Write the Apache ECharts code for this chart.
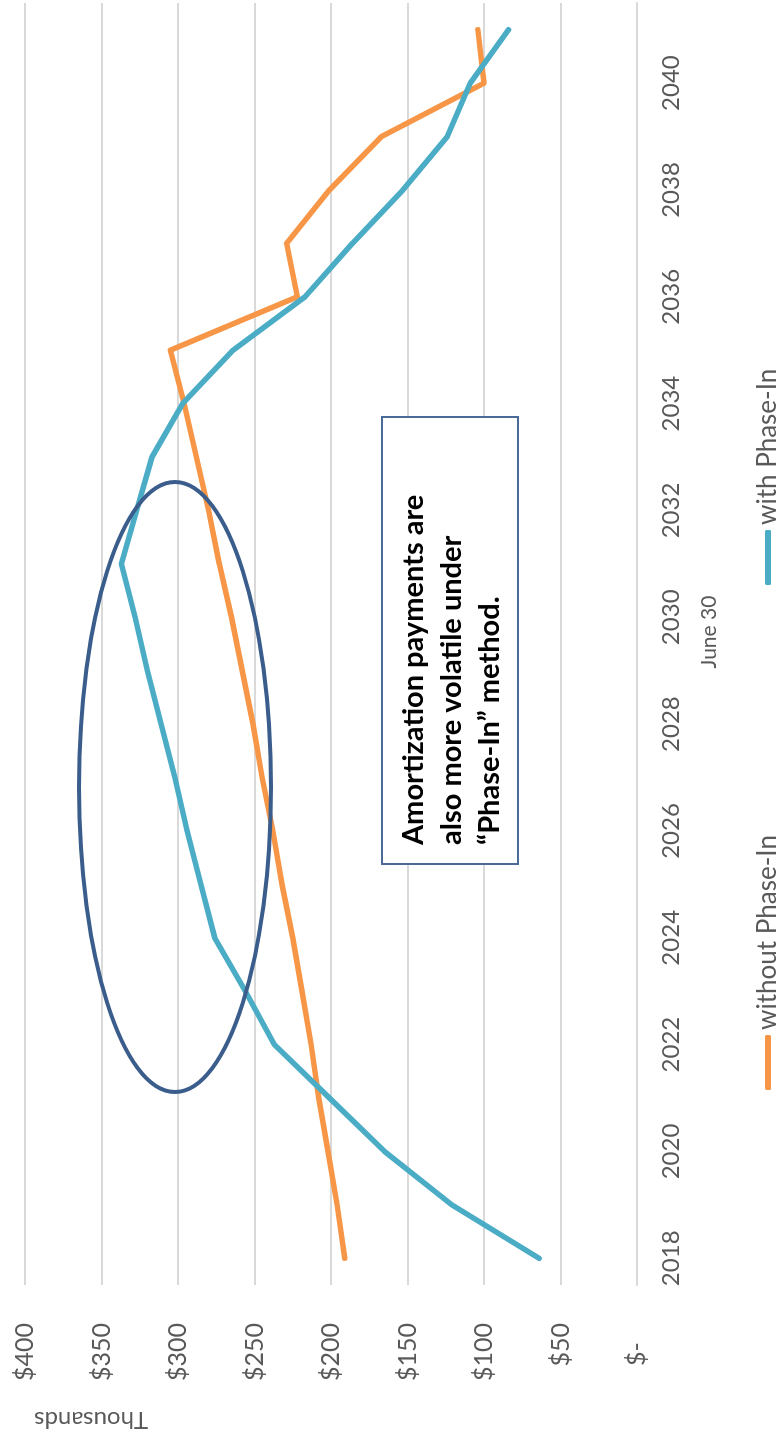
<!DOCTYPE html>
<html>
<head>
<meta charset="utf-8">
<script src="https://cdn.jsdelivr.net/npm/echarts@6/dist/echarts.min.js"></script>
<style>
  html, body { margin: 0; padding: 0; background: #fff; overflow: hidden; }
  #wrap { position: absolute; left: 0; top: 0; width: 1433px; height: 779px;
          transform-origin: 0 0; transform: translate(0, 1433px) rotate(-90deg); }
  #chart { width: 1433px; height: 779px; }
</style>
</head>
<body>
<div id="wrap"><div id="chart"></div></div>
<script>
// Categories (June 30 of each year)
const years = ['2018','2019','2020','2021','2022','2023','2024','2025','2026','2027','2028','2029',
               '2030','2031','2032','2033','2034','2035','2036','2037','2038','2039','2040','2041'];
// Amortization payments, $ thousands
const withoutPhaseIn = [191,196,202,208,213,219,225,232,238,245,251,258,265,273,280,288,296,305,222,229,201,167,100,104];
const withPhaseIn    = [64,121,165,201,237,256,276,285,294,302,311,320,328,337,327,317,297,264,217,186,153,124,109,84];
// Value axis ticks
const valueTicks = [0,50,100,150,200,250,300,350,400];
const seriesNames = ['without Phase-In', 'with Phase-In'];
const noteText = 'Amortization payments are\nalso more volatile under\n\u201CPhase-In\u201D method.';

const FONT = 'Lato, "Open Sans", sans-serif';
const chart = echarts.init(document.getElementById('chart'), null, { renderer: 'canvas' });

chart.setOption({
  animation: false,
  backgroundColor: '#ffffff',
  grid: { left: 148, right: 3, top: 25, bottom: 142, containLabel: false, outerBoundsMode: 'none' },
  legend: [
    { data: [seriesNames[0]], left: 338, top: 750, icon: 'roundRect', itemWidth: 55, itemHeight: 6,
      textStyle: { fontFamily: FONT, fontSize: 26, color: '#595959' } },
    { data: [seriesNames[1]], left: 843, top: 750, icon: 'roundRect', itemWidth: 55, itemHeight: 6,
      textStyle: { fontFamily: FONT, fontSize: 26, color: '#595959' } }
  ],
  xAxis: {
    type: 'category',
    data: years,
    boundaryGap: true,
    name: 'June 30',
    nameLocation: 'middle',
    nameGap: 62,
    nameTextStyle: { fontFamily: FONT, fontSize: 21, color: '#595959', padding: [0, 0, 0, 24] },
    axisLine: { show: true, lineStyle: { color: '#D9D9D9', width: 2 } },
    axisTick: { show: false },
    axisLabel: { interval: 1, margin: 22, fontFamily: FONT, fontSize: 24, color: '#595959' },
    splitLine: { show: false }
  },
  yAxis: {
    type: 'value',
    min: valueTicks[0],
    max: valueTicks[valueTicks.length - 1],
    interval: valueTicks[1] - valueTicks[0],
    axisLine: { show: false },
    axisTick: { show: false },
    axisLabel: {
      margin: 38, fontFamily: FONT, fontSize: 25, color: '#595959',
      formatter: v => v === 0 ? '$-   ' : '$' + v
    },
    splitLine: { show: true, lineStyle: { color: '#D9D9D9', width: 2 } }
  },
  series: [
    { name: seriesNames[0], type: 'line', data: withoutPhaseIn, symbol: 'none', z: 3,
      itemStyle: { color: '#F79646' },
      lineStyle: { color: '#F79646', width: 5.5, cap: 'round', join: 'round' } },
    { name: seriesNames[1], type: 'line', data: withPhaseIn, symbol: 'none', z: 3,
      itemStyle: { color: '#4BACC6' },
      lineStyle: { color: '#4BACC6', width: 5.5, cap: 'round', join: 'round' } }
  ],
  graphic: [
    { type: 'text', z: 100, x: 13, y: 91, rotation: Math.PI / 2,
      style: { text: 'Thousands', fontFamily: FONT, fontSize: 24, fill: '#595959', align: 'center', verticalAlign: 'middle' } },
    { type: 'ellipse', z: 100, shape: { cx: 646, cy: 175, rx: 305, ry: 96 },
      style: { fill: 'none', stroke: '#3A5D8C', lineWidth: 4 } },
    { type: 'rect', z: 100, shape: { x: 569, y: 382, width: 447, height: 136 },
      style: { fill: '#ffffff', stroke: '#4A6A98', lineWidth: 2 } },
    { type: 'text', z: 101, x: 588, y: 395,
      style: { text: noteText, fontFamily: FONT, fontWeight: 'bold', fontSize: 29, lineHeight: 38,
               fill: '#000000', align: 'left', verticalAlign: 'top' } }
  ]
});
</script>
</body>
</html>
